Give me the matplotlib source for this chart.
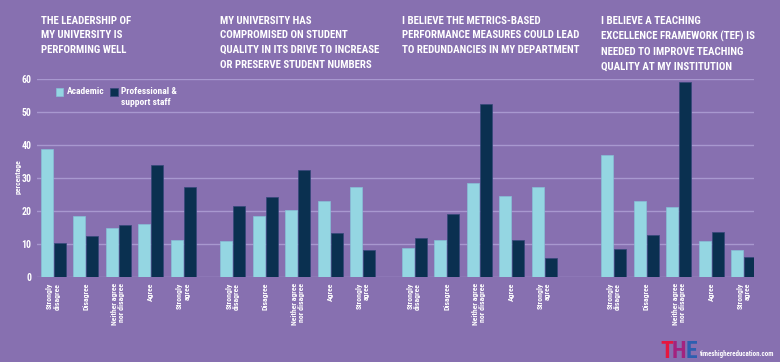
import matplotlib
matplotlib.use("Agg")
import matplotlib.pyplot as plt
from matplotlib.patches import Rectangle
from matplotlib.transforms import blended_transform_factory
import numpy as np

# ---- data ----
categories = ["Strongly\ndisagree", "Disagree", "Neither agree\nnor disagree", "Agree", "Strongly\nagree"]
titles = [
    "THE LEADERSHIP OF\nMY UNIVERSITY IS\nPERFORMING WELL",
    "MY UNIVERSITY HAS\nCOMPROMISED ON STUDENT\nQUALITY IN ITS DRIVE TO INCREASE\nOR PRESERVE STUDENT NUMBERS",
    "I BELIEVE THE METRICS-BASED\nPERFORMANCE MEASURES COULD LEAD\nTO REDUNDANCIES IN MY DEPARTMENT",
    "I BELIEVE A TEACHING\nEXCELLENCE FRAMEWORK (TEF) IS\nNEEDED TO IMPROVE TEACHING\nQUALITY AT MY INSTITUTION",
]
academic = [
    [38.8, 18.6, 15.0, 16.2, 11.2],
    [10.8, 18.5, 20.2, 23.2, 27.3],
    [8.9, 11.2, 28.5, 24.6, 27.4],
    [37.0, 23.1, 21.1, 10.8, 8.2],
]
professional = [
    [10.4, 12.3, 15.8, 33.9, 27.4],
    [21.6, 24.4, 32.5, 13.3, 8.2],
    [11.9, 19.1, 52.4, 11.3, 5.8],
    [8.4, 12.7, 59.2, 13.8, 6.2],
]
series_names = ["Academic", "Professional &\nsupport staff"]
yticks = [0, 10, 20, 30, 40, 50, 60]

# ---- style ----
BG = "#8770B0"
CYAN = "#94D6E2"
NAVY = "#0A3050"
GRID = "#A898CF"
WHITE = "#FFFFFF"
FAM = ["Roboto Condensed", "Roboto", "DejaVu Sans"]
FONT = dict(family=FAM, weight="bold", color=WHITE)

W, H = 780, 362
fig = plt.figure(figsize=(W / 100, H / 100), dpi=100, facecolor=BG)
ax = fig.add_axes([37 / W, 1 - 277 / H, (754 - 37) / W, (277 - 79.3) / H])
ax.set_facecolor(BG)
renderer = fig.canvas.get_renderer()


def fit(text_obj, target_px, max_size):
    """shrink font so that the text is no wider than target_px"""
    text_obj.set_fontsize(max_size)
    w = text_obj.get_window_extent(renderer).width
    if w > target_px:
        text_obj.set_fontsize(max_size * target_px / w)
    return text_obj


panel_starts = [0.0, 5.52, 11.1, 17.24]
bw = 0.37
off = 0.2
for p, start in enumerate(panel_starts):
    xs = start + np.arange(len(categories))
    ax.bar(xs - off, academic[p], width=bw, color=CYAN, zorder=3,
           edgecolor="#86BFD6", linewidth=0.5)
    ax.bar(xs + off, professional[p], width=bw, color=NAVY, zorder=3,
           edgecolor="#34477A", linewidth=0.5)
    for x, c in zip(xs, categories):
        ax.text(x, -1.8, c, rotation=90, ha="center", va="top",
                multialignment="right", fontsize=5.6, linespacing=1.0,
                **FONT)

ax.set_xlim(-0.5, 21.56)
ax.set_ylim(0, 60)
ax.set_yticks(yticks)
ax.set_xticks([])
for y in yticks:
    ax.axhline(y, color=GRID, linewidth=1.0, zorder=1)
ax.tick_params(axis="y", length=0, pad=4, labelsize=7, labelcolor=WHITE)
for lab in ax.get_yticklabels():
    lab.set_fontweight("bold")
    lab.set_family(FAM)
for s in ax.spines.values():
    s.set_visible(False)

fig.text(18.5 / W, 1 - 177 / H, "percentage", rotation=90, ha="center",
         va="center", fontsize=5.6, **FONT)

# titles
tr = blended_transform_factory(ax.transData, fig.transFigure)
title_widths = [92, 160, 182, 158]
tobjs = []
for start, t, tw in zip(panel_starts, titles, title_widths):
    to = ax.text(start - off - bw / 2, 1 - 15.5 / H, t, transform=tr, ha="left",
                 va="top", fontsize=9, linespacing=1.6, **FONT)
    fit(to, tw, 9)
    tobjs.append(to)
common = min(o.get_fontsize() for o in tobjs)
for o in tobjs:
    o.set_fontsize(common)

# legend (manual)
sq = 7.7
for (x0, col, edge), name in zip([(55.7, CYAN, "#86BFD6"), (110, NAVY, "#34477A")], series_names):
    fig.add_artist(Rectangle((x0 / W, 1 - 96 / H), sq / W, sq / H,
                             transform=fig.transFigure, facecolor=col,
                             edgecolor=edge, linewidth=0.5))
    fig.text((x0 + sq + 3) / W, 1 - 87.3 / H, name, ha="left", va="top",
             fontsize=6.8, linespacing=1.2, **FONT)

# logo
logo_cols = ["#E5173F", "#A3237F", "#2C5FB0"]
letters = []
lx = 0
for ch, col in zip("THE", logo_cols):
    lt = fig.text(lx / W, 1 - 357.5 / H, ch, ha="left", va="baseline",
                  fontsize=17, family=FAM, weight="bold", color=col)
    letters.append(lt)
    lx += lt.get_window_extent(renderer).width - 1.0
shift = 696 - lx
for lt in letters:
    x, y = lt.get_position()
    lt.set_position((x + shift / W, y))
url = fig.text(700 / W, 1 - 354 / H, "timeshighereducation.com", ha="left",
               va="center", **FONT)
fit(url, 73, 5.4)

fig.savefig("out.png", dpi=100, facecolor=BG)
